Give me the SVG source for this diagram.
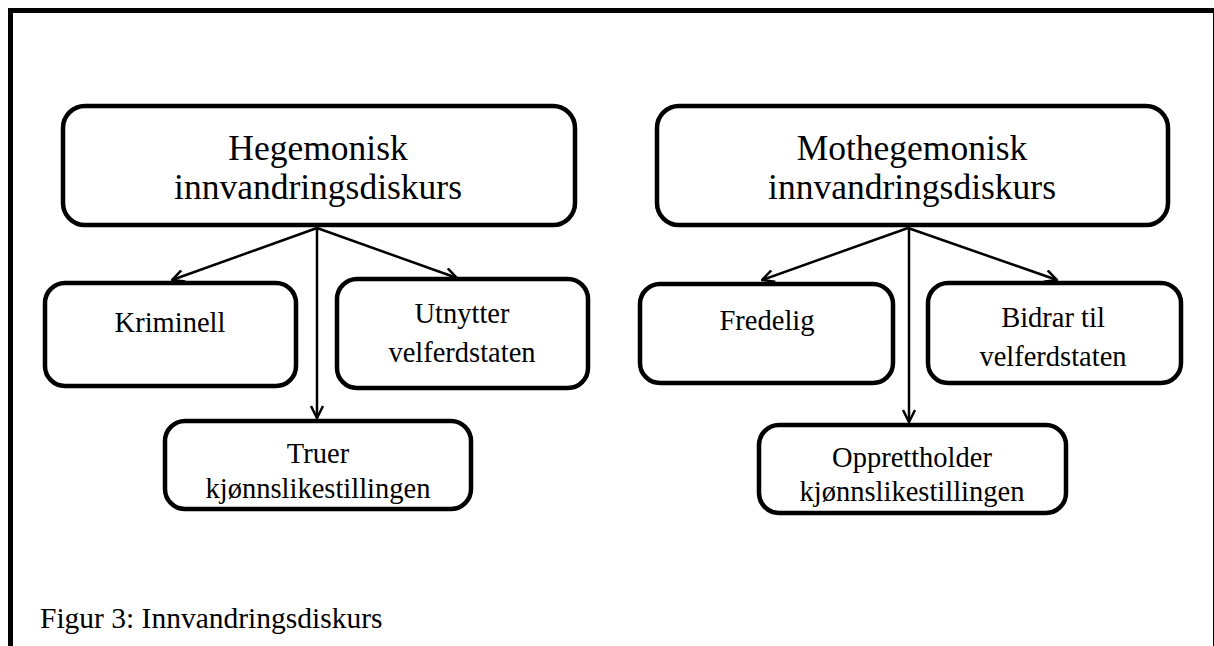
<svg xmlns="http://www.w3.org/2000/svg" width="1214" height="646" viewBox="0 0 1214 646">
  <defs>
    <style>
      .box { fill: #ffffff; stroke: #000000; stroke-width: 4.5; }
      .t1 { font-family: "Liberation Serif", "Times New Roman", serif; font-size: 35.5px; fill: #000; text-anchor: middle; }
      .t2 { font-family: "Liberation Serif", "Times New Roman", serif; font-size: 28.5px; fill: #000; text-anchor: middle; }
      .cap { font-family: "Liberation Serif", "Times New Roman", serif; font-size: 29.5px; fill: #000; }
      .conn { stroke: #000; stroke-width: 2.5; fill: none; marker-end: url(#arr); }
    </style>
    <marker id="arr" viewBox="0 0 14 14" refX="13" refY="7" markerWidth="14" markerHeight="14" markerUnits="userSpaceOnUse" orient="auto">
      <path d="M1,1 L13,7 L1,13" fill="none" stroke="#000" stroke-width="2.5"/>
    </marker>
  </defs>
  <rect width="1214" height="646" fill="#ffffff"/>
  <rect x="10.5" y="10.5" width="1205" height="700" fill="none" stroke="#000" stroke-width="5"/>

  <g id="connectors">
    <line class="conn" x1="317" y1="228" x2="172" y2="280"/>
    <line class="conn" x1="317" y1="228" x2="457" y2="278"/>
    <line class="conn" x1="317" y1="228" x2="317" y2="418"/>
    <line class="conn" x1="908" y1="228" x2="762" y2="280"/>
    <line class="conn" x1="908" y1="228" x2="1057" y2="280"/>
    <line class="conn" x1="909" y1="228" x2="909" y2="422"/>
  </g>

  <g id="hegemonisk">
    <rect class="box" x="63" y="106" width="512" height="119" rx="22"/>
    <text class="t1" x="318" y="160">Hegemonisk</text>
    <text class="t1" x="318" y="199">innvandringsdiskurs</text>
  </g>
  <g id="mothegemonisk">
    <rect class="box" x="657" y="106" width="511" height="119" rx="22"/>
    <text class="t1" x="912" y="160">Mothegemonisk</text>
    <text class="t1" x="912" y="199">innvandringsdiskurs</text>
  </g>
  <g id="kriminell">
    <rect class="box" x="45" y="283" width="251" height="103" rx="20"/>
    <text class="t2" x="170" y="332">Kriminell</text>
  </g>
  <g id="utnytter">
    <rect class="box" x="337" y="279" width="251" height="109" rx="20"/>
    <text class="t2" x="462" y="323">Utnytter</text>
    <text class="t2" x="462" y="362">velferdstaten</text>
  </g>
  <g id="truer">
    <rect class="box" x="165" y="421" width="306" height="88" rx="20"/>
    <text class="t2" x="318" y="463">Truer</text>
    <text class="t2" x="318" y="498">kjønnslikestillingen</text>
  </g>
  <g id="fredelig">
    <rect class="box" x="640" y="284" width="253" height="99" rx="20"/>
    <text class="t2" x="767" y="330">Fredelig</text>
  </g>
  <g id="bidrar">
    <rect class="box" x="928" y="283" width="253" height="100" rx="20"/>
    <text class="t2" x="1053" y="327">Bidrar til</text>
    <text class="t2" x="1053" y="366">velferdstaten</text>
  </g>
  <g id="opprettholder">
    <rect class="box" x="759" y="425" width="307" height="88" rx="20"/>
    <text class="t2" x="912" y="467">Opprettholder</text>
    <text class="t2" x="912" y="501">kjønnslikestillingen</text>
  </g>
  <text class="cap" x="40" y="628">Figur 3: Innvandringsdiskurs</text>
</svg>
